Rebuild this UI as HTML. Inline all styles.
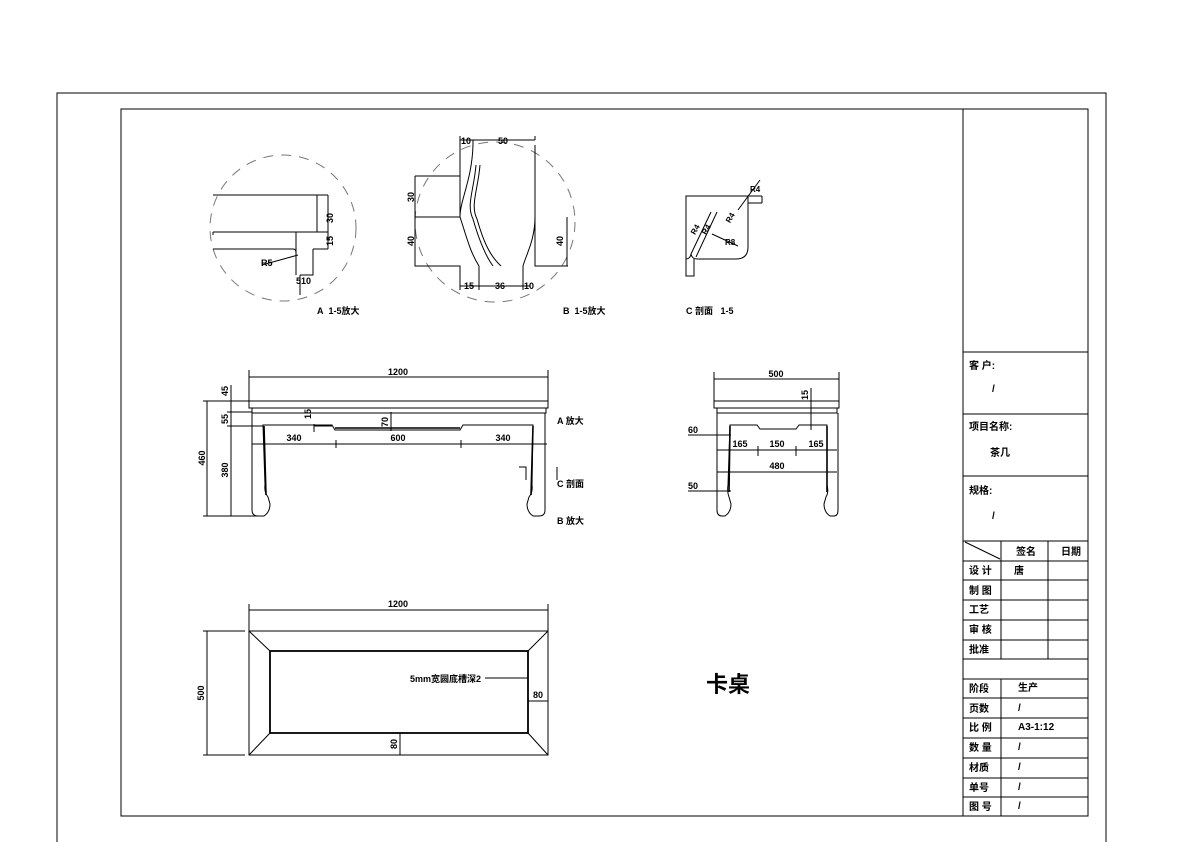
<!DOCTYPE html>
<html><head><meta charset="utf-8"><style>
html,body{margin:0;padding:0;background:#fff;}
svg{display:block}
text{font-family:"Liberation Sans","Noto Sans CJK SC",sans-serif;font-weight:bold;fill:#000}
</style></head><body>
<svg width="1191" height="842" viewBox="0 0 1191 842" xmlns="http://www.w3.org/2000/svg">
<g stroke="#000" stroke-width="1" fill="none">
<path d="M57 842V93H1106V842"/>
<rect x="121" y="109" width="967" height="707"/>
<line x1="963" y1="109" x2="963" y2="816"/>
<line x1="963" y1="352" x2="1088" y2="352"/>
<line x1="963" y1="414" x2="1088" y2="414"/>
<line x1="963" y1="476" x2="1088" y2="476"/>
<line x1="963" y1="541" x2="1088" y2="541"/>
<line x1="963" y1="561" x2="1088" y2="561"/>
<line x1="963" y1="580" x2="1088" y2="580"/>
<line x1="963" y1="600" x2="1088" y2="600"/>
<line x1="963" y1="620" x2="1088" y2="620"/>
<line x1="963" y1="640" x2="1088" y2="640"/>
<line x1="963" y1="659" x2="1088" y2="659"/>
<line x1="963" y1="679" x2="1088" y2="679"/>
<line x1="963" y1="698" x2="1088" y2="698"/>
<line x1="963" y1="718" x2="1088" y2="718"/>
<line x1="963" y1="738" x2="1088" y2="738"/>
<line x1="963" y1="758" x2="1088" y2="758"/>
<line x1="963" y1="778" x2="1088" y2="778"/>
<line x1="963" y1="797" x2="1088" y2="797"/>
<line x1="1001" y1="541" x2="1001" y2="659"/>
<line x1="1048" y1="541" x2="1048" y2="659"/>
<line x1="1001" y1="679" x2="1001" y2="816"/>
<line x1="965" y1="542" x2="1000" y2="559"/>

<!-- Detail A -->
<circle cx="283" cy="228" r="73" stroke="#777" stroke-dasharray="10,8"/>
<path d="M213 195H317V232H213M213 232V235M296 232V275M213 249H293Q296 249 296 253M313 249V275H300M317 249H313"/>
<path d="M317 195H328M317 232H328M317 249H328M328 195V249M300 275V295"/>
<line x1="298" y1="255" x2="262" y2="265"/>
<!-- Detail B -->
<circle cx="495" cy="222" r="80" stroke="#777" stroke-dasharray="10,8"/>
<path d="M460 145V217M460 176H415M460 217H415V266H460V290M479 266V290M523 266V290M535 217V266H568M535 217V145M460 145V136M473 140V145M535 140V136M460 140H535"/>
<path d="M473 145C472 180 460 200 460 217C466 235 470 252 479 266M476 165C474 190 466 205 473 219C479 240 485 255 493 266M480 165C478 190 470 205 477 219C483 240 489 255 501 266M535 217C535 240 526 255 523 266M460 286H530M567 217V266M415 176V266"/>
<!-- Detail C -->
<path d="M686 196H748V247Q748 259 736 259H697Q692 259 691 254Q690 259 686 259Z"/>
<path d="M686 259V276H694V259M748 196H762M748 203H762M762 196V203M691 254L711 212M696 257L717 212M738 246L712 234M738 210L760 180"/>

<!-- Front view -->
<rect x="249" y="401" width="299" height="7"/>
<path d="M252 408V413H546V408"/>
<path d="M252 413V510Q252 516 258 516H264Q270 512 270 504L268 497Q264 492 265 485L263 425H332L335 430H460L463 425H533L532 485Q533 492 529 497L527 504Q527 512 533 516H539Q545 516 545 510V413"/>
<path d="M264 426L266 495M533 426L531 495M335 428H460" stroke-width="1.6"/>
<line x1="249" y1="377" x2="548" y2="377"/>
<line x1="249" y1="370" x2="249" y2="401"/>
<line x1="548" y1="370" x2="548" y2="401"/>
<path d="M207 401V516M231 385V516M203 401H249M203 516H262M227 412H252M227 426H263M240 401H230"/>
<line x1="252" y1="444" x2="547" y2="444"/>
<path d="M336 440V448M461 440V448M314 424V432M314 426H332M391 412V431M519 467H526V480M557 467V480"/>
<!-- Side view -->
<rect x="714" y="401" width="125" height="7"/>
<path d="M717 408V413H837V408"/>
<path d="M717 413V510Q717 516 722 516H725Q731 512 731 504L729 497Q727 492 728 485L730 425H757L760 429H796L799 425H827L827 485Q829 492 826 497L824 504Q824 512 830 516H834Q838 516 838 510V413"/>
<path d="M730 426L729 492M827 426L827 492" stroke-width="1.6"/>
<line x1="714" y1="379" x2="839" y2="379"/>
<path d="M714 372V401M839 372V401M717 450H837M758 446V456M796 446V456M717 472H837M688 435H731M688 491H731M811 388V430"/>
<!-- Plan view -->
<rect x="249" y="631" width="299" height="124"/>
<rect x="270" y="651" width="258" height="82" stroke-width="1.8"/>
<path d="M249 631L270 651M548 631L528 651M249 755L270 733M548 755L528 733"/>
<line x1="249" y1="610" x2="548" y2="610"/>
<path d="M249 604V631M548 604V631M207 631V755M203 631H245M203 755H245M485 678H528M528 701H548M400 733V755"/>
</g>
<g font-size="9">
<text x="333" y="218" transform="rotate(-90 333 218)" text-anchor="middle">30</text>
<text x="333" y="241" transform="rotate(-90 333 241)" text-anchor="middle">15</text>
<text x="261" y="266">R5</text>
<text x="296" y="284">510</text>
<text x="317" y="314">A&#160;&#160;1-5放大</text>
<text x="461" y="144">10</text>
<text x="498" y="144">50</text>
<text x="414" y="197" transform="rotate(-90 414 197)" text-anchor="middle">30</text>
<text x="414" y="241" transform="rotate(-90 414 241)" text-anchor="middle">40</text>
<text x="563" y="241" transform="rotate(-90 563 241)" text-anchor="middle">40</text>
<text x="464" y="289">15</text>
<text x="495" y="289">36</text>
<text x="524" y="289">10</text>
<text x="563" y="314">B&#160;&#160;1-5放大</text>
<text x="686" y="314">C 剖面&#160;&#160;&#160;1-5</text>
<text x="750" y="192" font-size="8">R4</text>
<text x="692" y="230" font-size="8" transform="rotate(-60 698 230)">R4</text>
<text x="703" y="230" font-size="8" transform="rotate(-60 709 230)">R4</text>
<text x="728" y="220" font-size="8" transform="rotate(-60 732 220)">R4</text>
<text x="725" y="245" font-size="8">R8</text>
<text x="398" y="375" text-anchor="middle">1200</text>
<text x="228" y="391" transform="rotate(-90 228 391)" text-anchor="middle">45</text>
<text x="228" y="419" transform="rotate(-90 228 419)" text-anchor="middle">55</text>
<text x="205" y="458" transform="rotate(-90 205 458)" text-anchor="middle">460</text>
<text x="228" y="470" transform="rotate(-90 228 470)" text-anchor="middle">380</text>
<text x="311" y="414" transform="rotate(-90 311 414)" text-anchor="middle">15</text>
<text x="388" y="422" transform="rotate(-90 388 422)" text-anchor="middle">70</text>
<text x="294" y="441" text-anchor="middle">340</text>
<text x="398" y="441" text-anchor="middle">600</text>
<text x="503" y="441" text-anchor="middle">340</text>
<text x="557" y="424">A 放大</text>
<text x="557" y="487">C 剖面</text>
<text x="557" y="524">B 放大</text>
<text x="776" y="377" text-anchor="middle">500</text>
<text x="808" y="395" transform="rotate(-90 808 395)" text-anchor="middle">15</text>
<text x="688" y="433">60</text>
<text x="688" y="489">50</text>
<text x="740" y="447" text-anchor="middle">165</text>
<text x="777" y="447" text-anchor="middle">150</text>
<text x="816" y="447" text-anchor="middle">165</text>
<text x="777" y="469" text-anchor="middle">480</text>
<text x="398" y="607" text-anchor="middle">1200</text>
<text x="204" y="693" transform="rotate(-90 204 693)" text-anchor="middle">500</text>
<text x="410" y="682">5mm宽圆底槽深2</text>
<text x="533" y="698">80</text>
<text x="397" y="744" transform="rotate(-90 397 744)" text-anchor="middle">80</text>
</g>
<text x="706" y="692" font-size="22">卡桌</text>
<g font-size="10">
<text x="969" y="369">客 户:</text>
<text x="992" y="392">/</text>
<text x="969" y="430">项目名称:</text>
<text x="990" y="456">茶几</text>
<text x="969" y="494">规格:</text>
<text x="992" y="519">/</text>
<text x="1016" y="555">签名</text>
<text x="1061" y="555">日期</text>
<text x="969" y="574">设 计</text>
<text x="1014" y="574">唐</text>
<text x="969" y="594">制 图</text>
<text x="969" y="613">工艺</text>
<text x="969" y="633">审 核</text>
<text x="969" y="653">批准</text>
<text x="969" y="692">阶段</text>
<text x="1018" y="691">生产</text>
<text x="969" y="712">页数</text>
<text x="1018" y="711">/</text>
<text x="969" y="731">比 例</text>
<text x="1018" y="730">A3-1:12</text>
<text x="969" y="751">数 量</text>
<text x="1018" y="750">/</text>
<text x="969" y="771">材质</text>
<text x="1018" y="770">/</text>
<text x="969" y="791">单号</text>
<text x="1018" y="790">/</text>
<text x="969" y="810">图 号</text>
<text x="1018" y="809">/</text>
</g>
</svg>
</body></html>
